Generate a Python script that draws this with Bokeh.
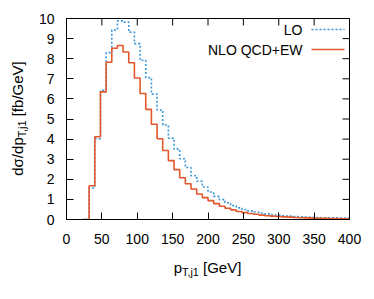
from bokeh.plotting import figure
from bokeh.models import FixedTicker, Range1d, Label, Arrow, Div
from bokeh.layouts import row, column
from bokeh.embed import file_html
from bokeh.resources import INLINE

# bin edges (GeV)
bin_edges = [24, 32, 40, 48, 56, 64, 72, 80, 88, 96, 104, 112, 120, 128, 136, 144,
             152, 160, 168, 176, 184, 192, 200, 208, 216, 224, 232, 240, 248, 256,
             264, 272, 280, 288, 296, 304, 312, 320, 328, 336, 344, 352, 360, 368,
             376, 384, 392, 400]

nlo_values = [0.0, 1.68, 4.12, 6.35, 7.82, 8.52, 8.66, 8.33, 7.80, 7.04, 6.27, 5.48,
              4.74, 4.02, 3.43, 2.93, 2.48, 2.08, 1.78, 1.52, 1.27, 1.09, 0.94, 0.79,
              0.66, 0.56, 0.48, 0.40, 0.34, 0.30, 0.26, 0.22, 0.19, 0.17, 0.15, 0.13,
              0.12, 0.10, 0.09, 0.08, 0.07, 0.06, 0.055, 0.05, 0.045, 0.04, 0.035]

lo_values = [0.0, 1.57, 4.02, 6.43, 8.30, 9.43, 9.88, 9.82, 9.32, 8.75, 7.92, 7.06,
             6.24, 5.45, 4.70, 4.05, 3.50, 3.02, 2.59, 2.18, 1.90, 1.62, 1.37, 1.15,
             0.99, 0.83, 0.69, 0.58, 0.50, 0.43, 0.37, 0.32, 0.28, 0.24, 0.21, 0.19,
             0.17, 0.15, 0.14, 0.12, 0.11, 0.10, 0.09, 0.085, 0.08, 0.075, 0.07]

x_ticks = [0, 50, 100, 150, 200, 250, 300, 350, 400]
y_ticks = [0, 1, 2, 3, 4, 5, 6, 7, 8, 9, 10]

series_names = ["LO", "NLO QCD+EW"]

LO_COLOR = "#3b97d8"
NLO_COLOR = "#e2572b"
FONT = "Liberation Sans"

p = figure(width=344, height=259,
           output_backend="svg", toolbar_location=None,
           x_range=Range1d(x_ticks[0], x_ticks[-1]),
           y_range=Range1d(y_ticks[0], y_ticks[-1]),
           min_border_left=36, min_border_top=18, min_border_right=25,
           min_border_bottom=40)
p.background_fill_color = "white"
p.border_fill_color = "white"
p.outline_line_color = "black"
p.outline_line_width = 1
p.xgrid.visible = False
p.ygrid.visible = False

p.step(bin_edges, lo_values + [lo_values[-1]], mode="after",
       line_color=LO_COLOR, line_width=1.6, line_dash="2 2")
p.step(bin_edges, nlo_values + [nlo_values[-1]], mode="after",
       line_color=NLO_COLOR, line_width=1.6)

def style_axis(ax, ticks, standoff):
    ax.ticker = FixedTicker(ticks=ticks)
    ax.major_tick_in = 7
    ax.major_tick_out = 0
    ax.minor_tick_line_color = None
    ax.axis_line_color = "black"
    ax.major_tick_line_color = "black"
    ax.major_label_text_font = FONT
    ax.major_label_text_color = "black"
    ax.major_label_text_font_size = "14px"
    ax.major_label_standoff = standoff

style_axis(p.xaxis[0], x_ticks, 14)
style_axis(p.yaxis[0], y_ticks, 12)

# mirrored inward ticks on top and right borders (half of each dash is clipped by the frame)
p.scatter(x_ticks, [y_ticks[-1]] * len(x_ticks), marker="dash", size=14, angle=1.5708,
          line_color="black", line_width=1)
p.scatter([x_ticks[-1]] * len(y_ticks), y_ticks, marker="dash", size=14,
          line_color="black", line_width=1)

def lab(text, x, y, size, align="left"):
    p.add_layout(Label(x=x, y=y, x_units="screen", y_units="screen", text=text,
                       text_font=FONT, text_font_size=size, text_color="black",
                       text_align=align, text_baseline="middle"))

# legend (gnuplot style: text left, sample right)
lab(series_names[0], 236, 190, "14px", align="right")
lab(series_names[1], 236, 170, "14px", align="right")
p.add_layout(Arrow(x_start=245, y_start=190, x_end=278, y_end=190,
                   start_units="screen", end_units="screen", end=None, start=None,
                   line_color=LO_COLOR, line_width=1.6, line_dash="2 2"))
p.add_layout(Arrow(x_start=245, y_start=170, x_end=278, y_end=170,
                   start_units="screen", end_units="screen", end=None, start=None,
                   line_color=NLO_COLOR, line_width=1.6))

SUB = "font-size:0.72em; vertical-align:-0.3em; line-height:0;"
xlabel = Div(
    text=('<div style="margin-left:36px; width:283px; text-align:center; '
          'font-family:\'Liberation Sans\'; font-size:15px; line-height:17px; color:black;">'
          'p<span style="' + SUB + '">T,j1</span> [GeV]</div>'),
    width=344, height=40, margin=0)
ylabel = Div(
    text=('<div style="position:absolute; left:9px; top:219px; width:201px; height:17px; '
          'text-align:center; transform-origin:0 0; transform:rotate(-90deg); '
          'font-family:\'Liberation Sans\'; font-size:15px; line-height:17px; color:black; '
          'white-space:nowrap;">'
          'd&sigma;/dp<span style="' + SUB + '">T,j1</span> [fb/GeV]</div>'),
    width=30, height=299, margin=0)

layout = row(ylabel, column(p, xlabel, spacing=0), spacing=0)

open("out.html", "w").write(file_html(layout, INLINE))
